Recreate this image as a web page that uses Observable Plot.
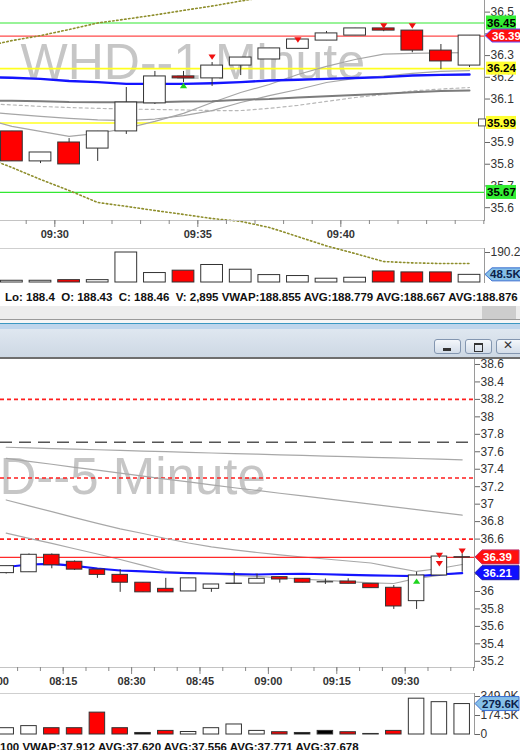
<!DOCTYPE html>
<html><head><meta charset="utf-8">
<script src="https://cdn.jsdelivr.net/npm/d3@7"></script>
<script src="https://cdn.jsdelivr.net/npm/@observablehq/plot@0.6"></script>
<style>
body{margin:0;background:#fff;}
#root{position:relative;width:520px;height:750px;overflow:hidden;background:#fff;font-family:"Liberation Sans",Arial,sans-serif;}
.abs{position:absolute;}
.btn{position:absolute;top:339px;width:27px;height:15px;border:1px solid #8396b0;border-radius:3px;background:linear-gradient(#f4f7fb,#d3dde9);box-sizing:border-box;}
.status{position:absolute;white-space:pre;font:bold 11.5px "Liberation Sans",Arial,sans-serif;color:#111;line-height:14px;}
</style></head><body><div id="root"></div>
<script>
// ---------------- 1-minute chart data ----------------
const m1Watermark = "WHD--1 Minute";
const m1Times = ["09:28","09:29","09:30","09:31","09:32","09:33","09:34","09:35","09:36","09:37","09:38","09:39","09:40","09:41","09:42","09:43","09:44"];
const m1Open  = [35.951,35.813,35.900,35.872,35.951,36.080,36.204,36.195,36.254,36.282,36.331,36.369,36.392,36.425,36.415,36.323,36.254];
const m1High  = [35.951,35.854,35.918,35.951,36.153,36.227,36.227,36.268,36.291,36.333,36.374,36.411,36.425,36.430,36.415,36.351,36.392];
const m1Low   = [35.813,35.803,35.799,35.813,35.937,36.075,36.176,36.158,36.208,36.282,36.331,36.369,36.392,36.410,36.313,36.236,36.245];
const m1Close = [35.813,35.854,35.799,35.951,36.084,36.204,36.195,36.254,36.291,36.333,36.374,36.402,36.425,36.415,36.323,36.273,36.392];
const m1Fill  = ["#f00","#fff","#f00","#fff","#fff","#fff","#f00","#fff","#fff","#fff","#fff","#fff","#fff","#f00","#f00","#f00","#fff"];
const m1Volume = [11,11,15,15,190.2,60,75,111,81,47,41,24,30,70,64,64,48.5];
const m1VolumeFill = ["#fff","#fff","#f00","#fff","#fff","#fff","#f00","#fff","#fff","#fff","#fff","#fff","#fff","#f00","#f00","#f00","#fff"];
// indicator lines (first value = 09:27, just off the left edge)
const m1LineTimes = ["09:27", ...m1Times];
const m1Vwap     = [36.201,36.198,36.193,36.183,36.178,36.170,36.170,36.170,36.173,36.178,36.185,36.189,36.193,36.197,36.201,36.208,36.211,36.213];
const m1AvgSlow  = [36.093,36.092,36.090,36.086,36.085,36.085,36.085,36.089,36.090,36.097,36.100,36.107,36.113,36.119,36.124,36.131,36.137,36.139];
const m1AvgDash  = [36.079,36.073,36.066,36.061,36.057,36.054,36.052,36.050,36.047,36.047,36.057,36.071,36.089,36.107,36.121,36.137,36.146,36.153];
const m1AvgMid   = [36.040,36.031,36.020,36.011,36.004,36.001,36.008,36.024,36.047,36.084,36.116,36.144,36.176,36.195,36.206,36.218,36.227,36.231];
const m1AvgFast  = [36.010,35.974,35.951,35.928,35.942,35.965,35.997,36.034,36.084,36.130,36.167,36.213,36.250,36.282,36.307,36.310,36.312,36.314];
const m1BandUp   = [36.340,36.369,36.392,36.420,36.450,36.468,36.487,36.508,36.528,36.551,36.572,36.590,36.604,36.613,36.622,36.627,36.632,36.632];
const m1BandLow  = [35.836,35.785,35.730,35.679,35.624,35.606,35.587,35.569,35.550,35.537,35.509,35.467,35.424,35.389,35.352,35.346,35.343,35.343];
const m1Levels = [36.45, 36.39, 36.24, 35.99, 35.67];
const m1LevelColors = ["#33e833","#ff4a4a","#ffff20","#ffff20","#33e833"];
const m1LevelTagFill = ["#33ee33","#ff1010","#ffff30","#ffff30","#33ee33"];
const m1SignalIdx = [6, 7, 10, 13, 14];
const m1SignalPrice = [36.162, 36.293, 36.372, 36.436, 36.436];
const m1SignalDir = [1, -1, -1, -1, -1];
const m1PriceTicks = [35.6,35.7,35.8,35.9,36.0,36.1,36.2,36.3,36.4,36.5];
const m1LabelIdx = [2, 7, 12];
const m1VolumeTicks = [190.2];
const m1Status = "Lo: 188.4  O: 188.43  C: 188.46  V: 2,895 VWAP:188.855 AVG:188.779 AVG:188.667 AVG:188.876 AVG:";

// ---------------- 5-minute chart data ----------------
const m5Watermark = "WHD--5 Minute";
const m5Times = ["08:00","08:05","08:10","08:15","08:20","08:25","08:30","08:35","08:40","08:45","08:50","08:55","09:00","09:05","09:10","09:15","09:20","09:25","09:30","09:35","09:40"];
const m5Open  = [36.21,36.22,36.42,36.34,36.25,36.19,36.10,36.03,36.00,36.03,36.090,36.09,36.164,36.145,36.106,36.114,36.088,36.042,35.889,36.183,36.392];
const m5High  = [36.29,36.43,36.43,36.35,36.25,36.25,36.10,36.15,36.15,36.08,36.22,36.20,36.164,36.145,36.143,36.145,36.088,36.068,36.221,36.41,36.43];
const m5Low   = [36.20,36.22,36.26,36.24,36.15,35.99,35.99,35.99,36.00,35.99,36.085,36.09,36.095,36.10,36.08,36.088,36.038,35.794,35.794,36.18,36.22];
const m5Close = [36.29,36.42,36.30,36.25,36.19,36.10,35.99,35.99,36.15,36.08,36.087,36.145,36.137,36.10,36.104,36.088,36.038,35.828,36.183,36.40,36.388];
const m5Fill  = ["#fff","#fff","#f00","#f00","#f00","#f00","#f00","#f00","#fff","#fff","#000","#fff","#f00","#f00","#000","#f00","#f00","#f00","#fff","#fff","#000"];
const m5Volume = [58,77,58,58,201,58,14,33,23,58,92,33,21,14,33,21,5,33,329,297,279.6];
const m5VolumeFill = ["#fff","#fff","#f00","#f00","#f00","#f00","#000","#f00","#fff","#fff","#fff","#fff","#f00","#000","#000","#f00","#888","#f00","#fff","#fff","#fff"];
const m5Vwap = [36.280,36.309,36.315,36.292,36.263,36.240,36.229,36.217,36.209,36.206,36.200,36.194,36.200,36.203,36.197,36.191,36.185,36.180,36.175,36.194,36.209];
const m5AvgA = [37.652,37.644,37.637,37.630,37.623,37.615,37.608,37.601,37.594,37.586,37.579,37.573,37.565,37.558,37.551,37.544,37.537,37.530,37.523,37.515,37.508];
const m5AvgB = [37.524,37.490,37.457,37.422,37.389,37.355,37.322,37.287,37.255,37.221,37.188,37.157,37.125,37.094,37.064,37.032,37.001,36.969,36.938,36.906,36.875];
const m5AvgC = [37.048,36.980,36.914,36.845,36.779,36.716,36.664,36.607,36.555,36.510,36.477,36.446,36.418,36.395,36.372,36.349,36.326,36.275,36.229,36.263,36.309];
const m5AvgD = [36.668,36.608,36.550,36.489,36.429,36.366,36.298,36.229,36.214,36.200,36.185,36.173,36.157,36.142,36.126,36.112,36.099,36.091,36.149,36.183,36.217];
const m5RedDashed = [38.2, 37.3, 36.6];
const m5GreyDashed = [37.71];
const m5LastLine = [36.39];
const m5SignalIdx = [18, 19, 19, 20];
const m5SignalPrice = [36.118, 36.412, 36.317, 36.461];
const m5SignalDir = [1, -1, -1, -1];
const m5PriceTicks = [35.2,35.4,35.6,35.8,36,36.2,36.4,36.6,36.8,37,37.2,37.4,37.6,37.8,38,38.2,38.4,38.6];
const m5LabelIdx = [0, 3, 6, 9, 12, 15, 18];
const m5VolumeTicks = [0, 174.5, 349];
const m5Status = "100 VWAP:37.912 AVG:37.620 AVG:37.556 AVG:37.771 AVG:37.678";

// ---------------- helpers ----------------
const FONT = '"Liberation Sans", Arial, sans-serif';
const root = document.getElementById("root");
function place(node, top, left = 0) {
  const d = document.createElement("div");
  d.className = "abs";
  d.style.top = top + "px"; d.style.left = left + "px";
  d.appendChild(node); root.appendChild(d); return d;
}
function div(cls, style, text) {
  const d = document.createElement("div");
  if (cls) d.className = cls;
  d.style.cssText = style;
  if (text != null) d.textContent = text;
  root.appendChild(d); return d;
}
const triUp = {draw(ctx, size) { const r = Math.sqrt(size / Math.PI); ctx.moveTo(0, -r * 0.75); ctx.lineTo(r, r * 0.75); ctx.lineTo(-r, r * 0.75); ctx.closePath(); }};
const triDown = {draw(ctx, size) { const r = Math.sqrt(size / Math.PI); ctx.moveTo(-r, -r * 0.75); ctx.lineTo(r, -r * 0.75); ctx.lineTo(0, r * 0.75); ctx.closePath(); }};
const fmtPrice = d => String(Math.round(d * 10) / 10);
const style = {background: "transparent", overflow: "visible", fontFamily: FONT, fontSize: "12px"};

function yScale(chart) {
  const s = chart.scale("y");
  return s.apply ? (v => s.apply(v)) : d3.scaleLinear(s.domain, s.range);
}
function tag(chart, value, o) {
  const y = yScale(chart)(value);
  const h = o.h || 14, top = y - h / 2;
  const g = d3.select(chart).append("g");
  if (o.arrow) {
    g.append("path")
      .attr("d", `M${o.x0},${y}L${o.x0 + 7},${top}L${o.x1},${top}L${o.x1},${top + h}L${o.x0 + 7},${top + h}Z`)
      .attr("fill", o.fill).attr("stroke", o.stroke || "none").attr("stroke-width", 1);
  } else {
    g.append("rect").attr("x", o.x0).attr("y", top).attr("width", o.x1 - o.x0).attr("height", h)
      .attr("fill", o.fill);
  }
  g.append("text").attr("x", o.tx).attr("y", y).attr("dy", "0.36em").attr("text-anchor", "start")
    .attr("font-family", FONT).attr("font-weight", "bold").attr("font-size", o.fs || 11.5)
    .attr("fill", o.color || "#000").text(o.text);
  return g;
}

function candleMarks(times, open, high, low, close, fill, w) {
  const c = times.map((t, i) => ({i, o: open[i], h: high[i], l: low[i], c: close[i], fill: fill[i]}));
  return [
    Plot.ruleX(c, {x: d => d.i + 0.5, y1: "l", y2: "h", stroke: "#333", strokeWidth: 1}),
    Plot.rect(c, {x1: d => d.i + 0.5 - w / 2, x2: d => d.i + 0.5 + w / 2,
      y1: d => Math.min(d.o, d.c), y2: d => Math.max(d.o, d.c),
      fill: d => d.fill, stroke: "#333", strokeWidth: 1})
  ];
}
function signalMarks(idx, price, dir) {
  const s = idx.map((i, k) => ({x: i + 0.5, y: price[k], dir: dir[k]}));
  return [
    Plot.dot(s.filter(d => d.dir > 0), {x: "x", y: "y", r: 3.6, symbol: triUp, fill: "#1ed41e", stroke: "none"}),
    Plot.dot(s.filter(d => d.dir < 0), {x: "x", y: "y", r: 3.6, symbol: triDown, fill: "#f01010", stroke: "none"})
  ];
}
function lineMark(xs, vals, opts) {
  return Plot.line(vals.map((v, k) => ({x: xs[k], v})), {x: "x", y: "v", ...opts});
}

// ---------------- 1-minute price chart ----------------
const m1X = {domain: [0.1014, 17.024], label: null};
const m1LineX = m1LineTimes.map((t, k) => k - 0.5);
const m1LevelData = m1Levels.map((v, k) => ({v, color: m1LevelColors[k]}));
const chart1 = Plot.plot({
  width: 520, height: 245, marginTop: 0, marginRight: 36, marginBottom: 25, marginLeft: 0,
  x: m1X, y: {domain: [35.541, 36.5535], label: null}, style,
  marks: [
    Plot.text([m1Watermark], {text: d => d, frameAnchor: "top-left", dx: 20, dy: 43, lineAnchor: "top", textAnchor: "start", fontSize: 50, fill: "#c6c6c6", fontFamily: FONT}),
    Plot.ruleY(m1LevelData.filter(d => d.color === "#ffff20"), {y: "v", stroke: d => d.color, strokeWidth: 1.6}),
    Plot.ruleY(m1LevelData.filter(d => d.color !== "#ffff20"), {y: "v", stroke: d => d.color, strokeWidth: 1.2}),
    lineMark(m1LineX, m1BandUp, {stroke: "#8e8e2c", strokeWidth: 1.6, strokeDasharray: "1.5,2.5"}),
    lineMark(m1LineX, m1BandLow, {stroke: "#8e8e2c", strokeWidth: 1.6, strokeDasharray: "1.5,2.5"}),
    lineMark(m1LineX, m1AvgDash, {stroke: "#b8b8b8", strokeWidth: 1.2, strokeDasharray: "3,3"}),
    lineMark(m1LineX, m1AvgMid, {stroke: "#a6a6a6", strokeWidth: 1.2}),
    lineMark(m1LineX, m1AvgFast, {stroke: "#a6a6a6", strokeWidth: 1.2}),
    lineMark(m1LineX, m1AvgSlow, {stroke: "#7c7c7c", strokeWidth: 2}),
    lineMark(m1LineX, m1Vwap, {stroke: "#1414ff", strokeWidth: 2.4}),
    ...candleMarks(m1Times, m1Open, m1High, m1Low, m1Close, m1Fill, 0.76),
    ...signalMarks(m1SignalIdx, m1SignalPrice, m1SignalDir),
    Plot.frame({anchor: "bottom", stroke: "#c4c4c4"}),
    Plot.frame({anchor: "right", stroke: "#9a9a9a"}),
    Plot.axisY(m1PriceTicks, {anchor: "right", label: null, tickSize: 5, tickPadding: 1, tickFormat: fmtPrice, fill: "#333", stroke: "#666", fontSize: 12}),
    Plot.axisX(d3.range(0, 18), {anchor: "bottom", label: null, tickSize: 4, tickFormat: () => "", stroke: "#888"}),
    Plot.axisX(m1LabelIdx, {anchor: "bottom", label: null, tickSize: 7, tickPadding: 3, tickFormat: i => m1Times[i], stroke: "#888", fill: "#333", fontSize: 11, fontWeight: "bold"})
  ]
});

// ---------------- 1-minute volume ----------------
const vol1 = Plot.plot({
  width: 520, height: 34, marginTop: 0, marginRight: 36, marginBottom: 0, marginLeft: 0,
  x: {...m1X, axis: null}, y: {domain: [0, 215.6], label: null}, style,
  marks: [
    Plot.rect(m1Volume.map((v, i) => ({i, v, fill: m1VolumeFill[i]})), {x1: d => d.i + 0.12, x2: d => d.i + 0.88, y1: 0, y2: "v", fill: d => d.fill, stroke: "#333"}),
    Plot.frame({anchor: "top", stroke: "#cfcfcf"}),
    Plot.frame({anchor: "right", stroke: "#9a9a9a"}),
    Plot.axisY(m1VolumeTicks, {anchor: "right", label: null, tickSize: 5, tickPadding: 1, tickFormat: d => d.toFixed(1) + "K", fill: "#333", stroke: "#666", fontSize: 12})
  ]
});

// ---------------- 5-minute price chart ----------------
const m5X = {domain: [0.25, 21.04], label: null};
const m5LineX = m5Times.map((t, i) => i + 0.5);
const chart5 = Plot.plot({
  width: 520, height: 333, marginTop: 0, marginRight: 46, marginBottom: 25, marginLeft: 0,
  x: m5X, y: {domain: [35.129, 38.657], label: null}, style,
  marks: [
    Plot.text([m5Watermark], {text: d => d, frameAnchor: "top-left", dx: -86, dy: 98, lineAnchor: "top", textAnchor: "start", fontSize: 51, fill: "#c6c6c6", fontFamily: FONT}),
    Plot.ruleY(m5GreyDashed, {stroke: "#555", strokeWidth: 1.5, strokeDasharray: "12,7"}),
    Plot.ruleY(m5RedDashed, {stroke: "#ff1e1e", strokeWidth: 1.6, strokeDasharray: "4,3"}),
    lineMark(m5LineX, m5AvgA, {stroke: "#a8a8a8", strokeWidth: 1.2}),
    lineMark(m5LineX, m5AvgB, {stroke: "#a8a8a8", strokeWidth: 1.2}),
    lineMark(m5LineX, m5AvgC, {stroke: "#a8a8a8", strokeWidth: 1.2}),
    lineMark(m5LineX, m5AvgD, {stroke: "#a8a8a8", strokeWidth: 1.2}),
    Plot.ruleY(m5LastLine, {stroke: "#ff2a2a", strokeWidth: 1.2}),
    lineMark(m5LineX, m5Vwap, {stroke: "#1414ff", strokeWidth: 2.2}),
    ...candleMarks(m5Times, m5Open, m5High, m5Low, m5Close, m5Fill, 0.68),
    ...signalMarks(m5SignalIdx, m5SignalPrice, m5SignalDir),
    Plot.frame({anchor: "bottom", stroke: "#c4c4c4"}),
    Plot.frame({anchor: "right", stroke: "#9a9a9a"}),
    Plot.axisY(m5PriceTicks, {anchor: "right", label: null, tickSize: 5, tickPadding: 1, tickFormat: fmtPrice, fill: "#333", stroke: "#666", fontSize: 12}),
    Plot.axisX(d3.range(0, 22), {anchor: "bottom", label: null, tickSize: 4, tickFormat: () => "", stroke: "#888"}),
    Plot.axisX(m5LabelIdx, {anchor: "bottom", label: null, tickSize: 7, tickPadding: 3, tickFormat: i => m5Times[i], stroke: "#888", fill: "#333", fontSize: 11, fontWeight: "bold"})
  ]
});

// ---------------- 5-minute volume ----------------
const vol5 = Plot.plot({
  width: 520, height: 41, marginTop: 0, marginRight: 46, marginBottom: 0, marginLeft: 0,
  x: {...m5X, axis: null}, y: {domain: [0, 376.6], label: null}, style,
  marks: [
    Plot.rect(m5Volume.map((v, i) => ({i, v, fill: m5VolumeFill[i]})), {x1: d => d.i + 0.16, x2: d => d.i + 0.84, y1: 0, y2: "v", fill: d => d.fill, stroke: "#333"}),
    Plot.frame({anchor: "top", stroke: "#cfcfcf"}),
    Plot.frame({anchor: "right", stroke: "#9a9a9a"}),
    Plot.axisY(m5VolumeTicks, {anchor: "right", label: null, tickSize: 5, tickPadding: 1, tickFormat: d => d === 0 ? "0" : d.toFixed(1) + "K", fill: "#333", stroke: "#666", fontSize: 12})
  ]
});

// ---------------- window chrome ----------------
div("abs", "top:306px;left:0;width:520px;height:13px;background:#ededed");
div("abs", "top:306px;left:482px;width:34px;height:13px;background:#cdcdcd");
div("abs", "top:319px;left:0;width:520px;height:1px;background:#9a9a9a");
div("abs", "top:320px;left:0;width:520px;height:3px;background:#f6f6f6");
div("abs", "top:323px;left:0;width:520px;height:6px;background:linear-gradient(#3a98c2 0,#3a98c2 1px,#bed5ec 1px)");
div("abs", "top:329px;left:0;width:520px;height:28px;background:linear-gradient(#dfe7f0,#cdd8e4)");
div("abs", "top:357px;left:0;width:520px;height:2px;background:#6e6e6e");
div("btn", "left:434px");
div("btn", "left:465px");
div("btn", "left:496px");
div("abs", "top:348px;left:443px;width:8px;height:3px;background:#333");
div("abs", "top:343px;left:474px;width:7px;height:6px;border:1px solid #333;border-top-width:2px");
div("abs", "top:338px;left:503px;font:12px 'DejaVu Sans',sans-serif;color:#333", "✕");

// ---------------- place charts ----------------
place(vol5, 693);
place(chart5, 359);
place(vol1, 248);
place(chart1, 0);
div("status", "top:290px;left:5px", m1Status);
div("status", "top:740px;left:0px", m5Status);

// ---------------- price / volume tags ----------------
tag(chart1, m1Levels[0], {x0: 486, x1: 516, tx: 487, fill: m1LevelTagFill[0], text: m1Levels[0].toFixed(2)});
tag(chart1, m1Levels[2], {x0: 486, x1: 516, tx: 487, fill: m1LevelTagFill[2], text: m1Levels[2].toFixed(2), h: 13});
const sq = yScale(chart1)(m1Levels[3]);
d3.select(chart1).append("rect").attr("x", 478.5).attr("y", sq - 3.5).attr("width", 7).attr("height", 7).attr("fill", "#fff").attr("stroke", "#555");
tag(chart1, m1Levels[3], {x0: 486, x1: 516, tx: 487, fill: m1LevelTagFill[3], text: m1Levels[3].toFixed(2), h: 13});
tag(chart1, m1Levels[4], {x0: 486, x1: 516, tx: 487, fill: m1LevelTagFill[4], text: m1Levels[4].toFixed(2)});
tag(chart1, m1Levels[1], {arrow: true, x0: 485, x1: 522, tx: 492, fill: m1LevelTagFill[1], stroke: "#6a4cff", color: "#fff", text: m1Levels[1].toFixed(2), h: 13});
tag(vol1, m1Volume[m1Volume.length - 1], {arrow: true, x0: 485, x1: 522, tx: 490, fill: "#86bfe8", stroke: "#3a6fd0", color: "#0b1d4a", text: m1Volume[m1Volume.length - 1].toFixed(1) + "K", h: 13});

tag(chart5, m5LastLine[0], {arrow: true, x0: 475, x1: 519, tx: 483, fill: "#ff1010", stroke: "#c0306a", color: "#fff", text: m5LastLine[0].toFixed(2), h: 14});
tag(chart5, m5Vwap[m5Vwap.length - 1], {arrow: true, x0: 475, x1: 519, tx: 483, fill: "#1010ff", stroke: "#2020a0", color: "#fff", text: m5Vwap[m5Vwap.length - 1].toFixed(2), h: 14});
tag(vol5, m5Volume[m5Volume.length - 1], {arrow: true, x0: 475, x1: 519, tx: 482, fill: "#86bfe8", stroke: "#3a6fd0", color: "#0b1d4a", text: m5Volume[m5Volume.length - 1].toFixed(1) + "K", h: 14});
</script></body></html>
